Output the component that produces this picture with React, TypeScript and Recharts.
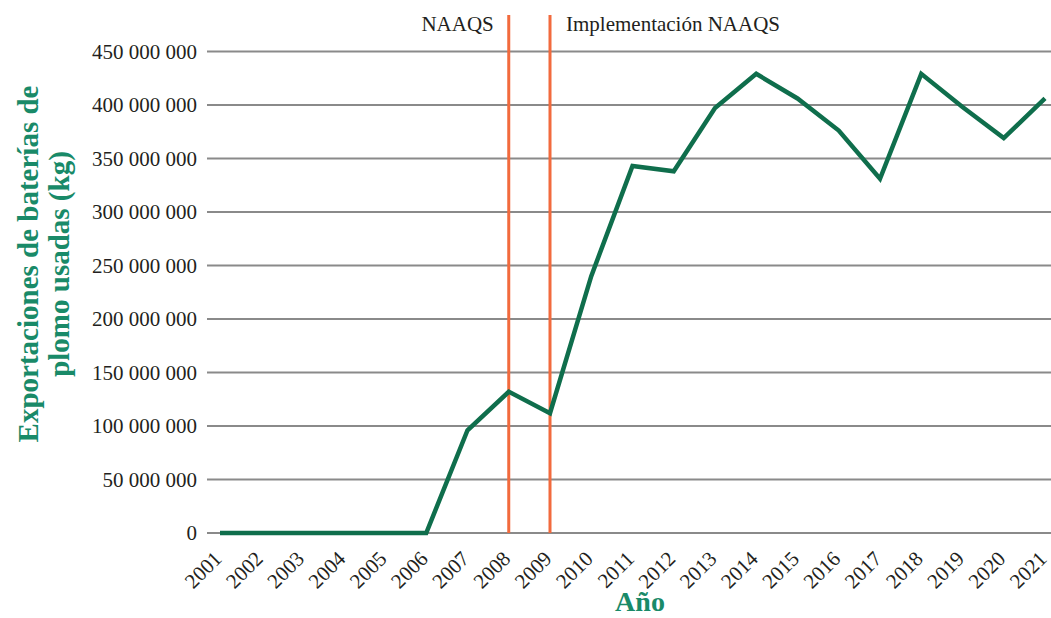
import React from 'react';
import { LineChart, Line, XAxis, YAxis, CartesianGrid, ReferenceLine, Label } from 'recharts';

const years = [
  '2001', '2002', '2003', '2004', '2005', '2006', '2007', '2008', '2009', '2010', '2011',
  '2012', '2013', '2014', '2015', '2016', '2017', '2018', '2019', '2020', '2021',
];

const exportaciones = [
  0, 0, 0, 0, 0, 0, 96000000, 132000000, 112000000, 240000000, 343000000,
  338000000, 397000000, 429000000, 406000000, 376000000, 331000000, 429000000, 398000000, 369000000, 406000000,
];

const yTicks = [0, 50000000, 100000000, 150000000, 200000000, 250000000, 300000000, 350000000, 400000000, 450000000];

const eventos = [
  { year: '2008', label: 'NAAQS', side: 'left' },
  { year: '2009', label: 'Implementación NAAQS', side: 'right' },
];

const data = years.map((year, i) => ({ year, valor: exportaciones[i] }));

const FONT = '"Liberation Serif", "Times New Roman", serif';
const TEXT = '#231f20';
const GREEN_TITLE = '#198a68';
const GREEN_LINE = '#0f6e4c';
const RED = '#f26a3d';

const formatMiles = (v: number) => String(v).replace(/\B(?=(\d{3})+(?!\d))/g, ' ');

const XTick = ({ x, y, payload }: any) => (
  <text
    transform={`translate(${x + 3},${y + 19}) rotate(-45)`}
    textAnchor="end"
    fontFamily={FONT}
    fontSize={21}
    fill={TEXT}
  >
    {payload.value}
  </text>
);

const YTitle = () => {
  const cy = 264;
  return (
    <g fontFamily={FONT} fontSize={29} fontWeight="bold" fill={GREEN_TITLE} textAnchor="middle">
      <text transform={`translate(38,${cy}) rotate(-90)`}>Exportaciones de baterías de</text>
      <text transform={`translate(69,${cy}) rotate(-90)`}>plomo usadas (kg)</text>
    </g>
  );
};

const XTitle = () => (
  <text x={640} y={611} textAnchor="middle" fontFamily={FONT} fontSize={28} fontWeight="bold" fill={GREEN_TITLE}>
    Año
  </text>
);

const eventoLabel = (texto: string, side: string) => ({ viewBox }: any) => (
  <text
    x={side === 'left' ? viewBox.x - 15 : viewBox.x + 16}
    y={31}
    textAnchor={side === 'left' ? 'end' : 'start'}
    fontFamily={FONT}
    fontSize={21}
    fill={TEXT}
  >
    {texto}
  </text>
);

export default function App() {
  return (
    <div style={{ position: 'absolute', left: 0, top: 0, width: 1051, height: 618, background: '#fff' }}>
      <LineChart width={1051} height={618} data={data} margin={{ top: 15, right: 0, bottom: 0, left: 0 }}>
        <CartesianGrid vertical={false} horizontalValues={yTicks} stroke="#8a8a8a" strokeWidth={2} />
        <XAxis
          dataKey="year"
          interval={0}
          height={85}
          padding={{ left: 13, right: 6 }}
          axisLine={false}
          tickLine={false}
          tick={<XTick />}
        >
          <Label content={<XTitle />} />
        </XAxis>
        <YAxis
          width={207}
          domain={[0, 484000000]}
          ticks={yTicks}
          interval={0}
          axisLine={false}
          tickLine={false}
          tickSize={0}
          tickMargin={10}
          tickFormatter={formatMiles}
          tick={{ fontFamily: FONT, fontSize: 21, fill: TEXT }}
        >
          <Label content={<YTitle />} />
        </YAxis>
        {eventos.map((e) => (
          <ReferenceLine key={e.year} x={e.year} stroke={RED} strokeWidth={3} label={eventoLabel(e.label, e.side)} />
        ))}
        <Line
          type="linear"
          dataKey="valor"
          stroke={GREEN_LINE}
          strokeWidth={4.5}
          dot={false}
          isAnimationActive={false}
        />
      </LineChart>
    </div>
  );
}
